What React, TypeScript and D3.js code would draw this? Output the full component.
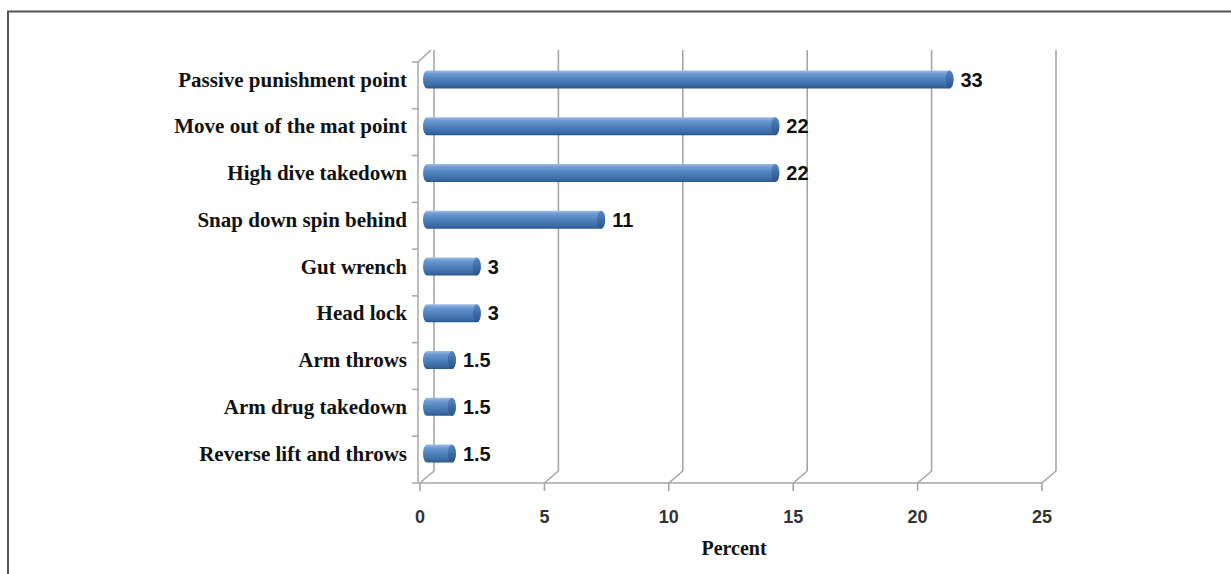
import React from "react";
import * as d3 from "d3";

const categories = [
  "Passive punishment point",
  "Move out of the mat point",
  "High dive takedown",
  "Snap down spin behind",
  "Gut wrench",
  "Head lock",
  "Arm throws",
  "Arm drug takedown",
  "Reverse lift and throws",
];
const barValues = [21, 14, 14, 7, 2, 2, 1, 1, 1];
const valueLabels = ["33", "22", "22", "11", "3", "3", "1.5", "1.5", "1.5"];
const xTicks = [0, 5, 10, 15, 20, 25];
const xTitle = "Percent";

const W = 1231;
const H = 574;
const DX = 14;
const DY = -12;
const GRID = "#a6a6a6";
const SERIF = "'Liberation Serif', 'Times New Roman', serif";
const SANS = "'Liberation Sans', Arial, sans-serif";

export default function App() {
  const x = d3.scaleLinear().domain([0, 25]).range([420, 1042]);
  const y = d3.scaleBand<string>().domain(categories).range([62, 483]).padding(0);
  const bw = y.bandwidth();
  const top = 50;
  const floorY = 483;
  const barH = 18;
  const r = barH / 2;
  const capRx = 4;

  return (
    <svg
      width={W}
      height={H}
      style={{ position: "absolute", left: 0, top: 0, display: "block", background: "#fff" }}
    >
      <defs>
        <linearGradient id="cyl" x1="0" y1="0" x2="0" y2="1">
          <stop offset="0" stopColor="#9dbde6" />
          <stop offset="0.18" stopColor="#6f9ad3" />
          <stop offset="0.5" stopColor="#4f81bd" />
          <stop offset="0.85" stopColor="#3a6aa5" />
          <stop offset="1" stopColor="#2a5588" />
        </linearGradient>
        <linearGradient id="cap" x1="0" y1="0" x2="0" y2="1">
          <stop offset="0" stopColor="#5a87c0" />
          <stop offset="0.5" stopColor="#3d6ba6" />
          <stop offset="1" stopColor="#2a5588" />
        </linearGradient>
      </defs>

      {/* outer frame */}
      <rect x={8} y={11.5} width={W + 20} height={H + 20} fill="none" stroke="#555" strokeWidth={2} />

      {/* left wall */}
      <g stroke={GRID} strokeWidth={1.5} fill="none">
        <line x1={418} y1={62} x2={418} y2={floorY} />
        <line x1={418} y1={62} x2={418 + DX - 1} y2={62 + DY} />
        {categories.map((c, i) => (
          <line key={"lt" + i} x1={412} x2={418} y1={y(c)!} y2={y(c)!} />
        ))}
        <line x1={412} x2={418} y1={floorY} y2={floorY} />
      </g>

      {/* back wall gridlines and floor */}
      <g stroke={GRID} strokeWidth={1.6} fill="none">
        {xTicks.map((t) => (
          <g key={"g" + t}>
            <line x1={x(t) + DX} x2={x(t) + DX} y1={top} y2={floorY + DY} />
            <line x1={x(t)} y1={floorY} x2={x(t) + DX} y2={floorY + DY} />
            <line x1={x(t)} x2={x(t)} y1={floorY} y2={floorY + 8} />
          </g>
        ))}
        <line x1={418} x2={x(25)} y1={floorY} y2={floorY} />
      </g>

      {/* bars */}
      {categories.map((c, i) => {
        const cy = y(c)! + bw / 2 + DY / 2;
        const x0 = x(0) + DX / 2;
        const x1 = x(barValues[i]) + DX / 2;
        return (
          <g key={"b" + i}>
            <path
              d={`M${x0},${cy - r} L${x1},${cy - r} A${capRx},${r} 0 0 1 ${x1},${cy + r} L${x0},${cy + r} A${capRx},${r} 0 0 1 ${x0},${cy - r} Z`}
              fill="url(#cyl)"
            />
            <ellipse cx={x1} cy={cy} rx={capRx} ry={r} fill="url(#cap)" />
            <text
              x={x1 + capRx + 7}
              y={cy}
              dy="0.36em"
              fontFamily={SANS}
              fontWeight="bold"
              fontSize={20}
              fill="#111"
            >
              {valueLabels[i]}
            </text>
          </g>
        );
      })}

      {/* category labels */}
      {categories.map((c) => (
        <text
          key={"c" + c}
          x={407}
          y={y(c)! + bw / 2 + DY / 2}
          dy="0.34em"
          textAnchor="end"
          fontFamily={SERIF}
          fontWeight="bold"
          fontSize={21}
          fill="#111"
        >
          {c}
        </text>
      ))}

      {/* x tick labels */}
      {xTicks.map((t) => (
        <text
          key={"t" + t}
          x={x(t)}
          y={523}
          textAnchor="middle"
          fontFamily={SANS}
          fontWeight="bold"
          fontSize={18}
          fill="#333"
        >
          {t}
        </text>
      ))}

      <text
        x={(x(0) + x(25)) / 2 + 3}
        y={555}
        textAnchor="middle"
        fontFamily={SERIF}
        fontWeight="bold"
        fontSize={20}
        fill="#111"
      >
        {xTitle}
      </text>
    </svg>
  );
}
